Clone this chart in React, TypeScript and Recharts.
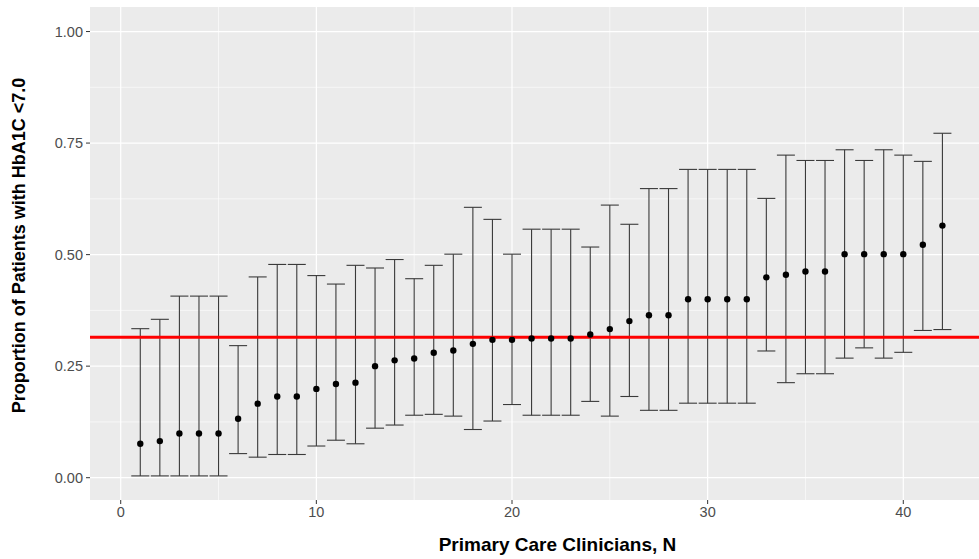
import React from 'react';
import {
  ComposedChart,
  Scatter,
  ErrorBar,
  XAxis,
  YAxis,
  CartesianGrid,
  ReferenceLine,
} from 'recharts';

const clinicians = [
  1, 2, 3, 4, 5, 6, 7, 8, 9, 10, 11, 12, 13, 14, 15, 16, 17, 18, 19, 20, 21,
  22, 23, 24, 25, 26, 27, 28, 29, 30, 31, 32, 33, 34, 35, 36, 37, 38, 39, 40,
  41, 42,
];
const proportion = [
  0.076, 0.082, 0.099, 0.099, 0.099, 0.132, 0.166, 0.182, 0.182, 0.199, 0.21,
  0.213, 0.25, 0.263, 0.267, 0.28, 0.285, 0.3, 0.309, 0.309, 0.312, 0.312,
  0.312, 0.321, 0.333, 0.351, 0.364, 0.364, 0.4, 0.4, 0.4, 0.4, 0.449, 0.455,
  0.462, 0.462, 0.501, 0.501, 0.501, 0.501, 0.522, 0.565,
];
const lowerCI = [
  0.004, 0.004, 0.004, 0.004, 0.004, 0.054, 0.046, 0.052, 0.052, 0.071, 0.084,
  0.076, 0.111, 0.118, 0.14, 0.142, 0.138, 0.108, 0.127, 0.164, 0.14, 0.14,
  0.14, 0.171, 0.138, 0.182, 0.151, 0.151, 0.167, 0.167, 0.167, 0.167, 0.284,
  0.213, 0.233, 0.233, 0.268, 0.291, 0.268, 0.281, 0.33, 0.332,
];
const upperCI = [
  0.334, 0.355, 0.407, 0.407, 0.407, 0.296, 0.45, 0.478, 0.478, 0.453, 0.434,
  0.476, 0.47, 0.489, 0.446, 0.476, 0.501, 0.606, 0.579, 0.501, 0.557, 0.557,
  0.557, 0.517, 0.611, 0.568, 0.648, 0.648, 0.691, 0.691, 0.691, 0.691, 0.626,
  0.723, 0.711, 0.711, 0.735, 0.711, 0.735, 0.723, 0.709, 0.772,
];
const overallRate = 0.315;

const xTicks = [0, 10, 20, 30, 40];
const xMinor = [5, 15, 25, 35];
const yTicks = [0, 0.25, 0.5, 0.75, 1];
const yMinor = [0.125, 0.375, 0.625, 0.875];

const xTitle = 'Primary Care Clinicians, N';
const yTitle = 'Proportion of Patients with HbA1C <7.0';

const data = clinicians.map((n, i) => ({
  n,
  p: proportion[i],
  err: [proportion[i] - lowerCI[i], upperCI[i] - proportion[i]],
}));

const FONT = "'Liberation Sans', Arial, Helvetica, sans-serif";

const Dot = (props: any) => {
  const { cx, cy } = props;
  if (cx == null || cy == null) return null;
  return <circle cx={cx} cy={cy} r={3.2} fill="#000" />;
};

const XTitle = (props: any) => {
  const vb = props.viewBox || {};
  const cx = vb.x + vb.width / 2 + 23;
  return (
    <text
      x={cx}
      y={551}
      textAnchor="middle"
      fontFamily={FONT}
      fontWeight="bold"
      fontSize={19}
      fill="#000"
    >
      {xTitle}
    </text>
  );
};

const YTitle = (props: any) => {
  const vb = props.viewBox || {};
  const cy = vb.y + vb.height / 2 - 8;
  const x = 25;
  return (
    <text
      x={x}
      y={cy}
      transform={`rotate(-90, ${x}, ${cy})`}
      textAnchor="middle"
      fontFamily={FONT}
      fontWeight="bold"
      fontSize={18}
      fill="#000"
    >
      {yTitle}
    </text>
  );
};

export default function App() {
  return (
    <div style={{ position: 'absolute', left: 0, top: 0 }}>
      <ComposedChart
        width={979}
        height={559}
        data={data}
        margin={{ top: 7, right: 0, bottom: 0, left: 0 }}
      >
        <CartesianGrid
          fill="#EBEBEB"
          stroke="#FFFFFF"
          strokeWidth={0.6}
          horizontalValues={yMinor}
          verticalValues={xMinor}
        />
        <CartesianGrid
          stroke="#FFFFFF"
          strokeWidth={1.2}
          horizontalValues={yTicks}
          verticalValues={xTicks}
        />
        <XAxis
          type="number"
          dataKey="n"
          domain={[-1.57, 43.87]}
          ticks={xTicks}
          allowDataOverflow
          axisLine={false}
          tickLine={{ stroke: '#333333' }}
          tickSize={4}
          tickMargin={3}
          height={59}
          tick={{ fill: '#4D4D4D', fontSize: 14.5, fontFamily: FONT }}
          label={<XTitle />}
        />
        <YAxis
          type="number"
          domain={[-0.05, 1.055]}
          ticks={yTicks}
          allowDataOverflow
          axisLine={false}
          tickLine={{ stroke: '#333333' }}
          tickSize={4}
          tickMargin={3}
          width={90}
          tickFormatter={(v: number) => v.toFixed(2)}
          tick={{ fill: '#4D4D4D', fontSize: 14.5, fontFamily: FONT }}
          label={<YTitle />}
        />
        <Scatter
          dataKey="p"
          fill="#000"
          shape={<Dot />}
          isAnimationActive={false}
        >
          <ErrorBar
            dataKey="err"
            direction="y"
            width={9}
            stroke="#3A3A3A"
            strokeWidth={1.1}
            isAnimationActive={false}
          />
        </Scatter>
        <ReferenceLine
          y={overallRate}
          stroke="#FF0000"
          strokeWidth={3}
          ifOverflow="extendDomain"
        />
      </ComposedChart>
    </div>
  );
}
